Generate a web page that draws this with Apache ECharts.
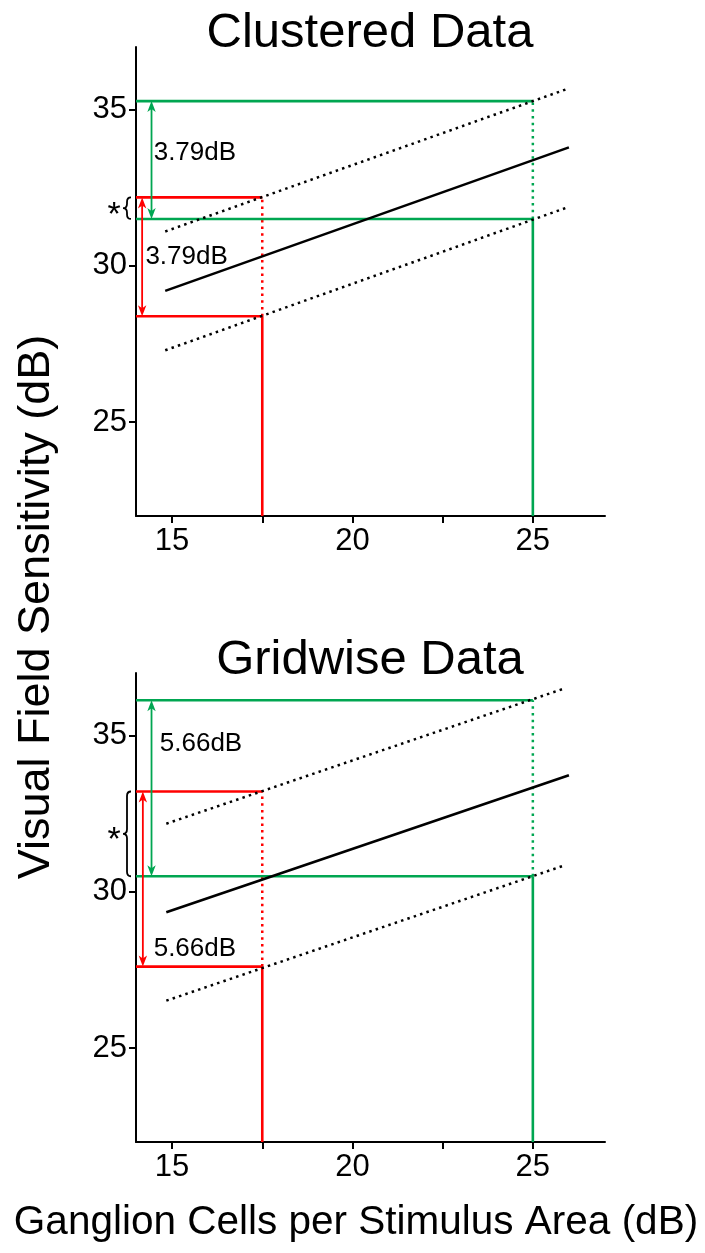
<!DOCTYPE html>
<html><head><meta charset="utf-8">
<script src="https://cdn.jsdelivr.net/npm/echarts@6/dist/echarts.min.js"></script>
<style>html,body{margin:0;padding:0;background:#fff}#c{width:705px;height:1253px}</style>
</head><body><div id="c"></div>
<script>
// ---------- data ----------
const xMin = 14, xMax = 27, yMin = 22, yMax = 37;
const xTickValues = [15, 17.5, 20, 22.5, 25];
const xLabelValues = [15, 20, 25];
const yTickValues = [25, 30, 35];
const panelTitles = ['Clustered Data', 'Gridwise Data'];
const yAxisTitle = 'Visual Field Sensitivity (dB)';
const xAxisTitle = 'Ganglion Cells per Stimulus Area (dB)';

// Clustered panel
const clusteredFitX = [14.81, 26.0];
const clusteredFitY = [29.20, 33.79];
const clusteredBandX = [14.81, 25.98];
const clusteredUpperY = [31.10, 35.67];
const clusteredLowerY = [27.30, 31.88];
const clusteredRed = [17.5, 28.39, 32.19];    // x, low, high
const clusteredGreen = [25, 31.50, 35.27];    // x, low, high
const clusteredArrowX = [14.17, 14.43];       // red, green
const clusteredDiffText = ['3.79dB', '3.79dB']; // red, green
const clusteredLabelPos = [[14.26, 30.29], [14.49, 33.61]]; // red, green

// Gridwise panel
const gridwiseFitX = [14.84, 26.0];
const gridwiseFitY = [29.35, 33.73];
const gridwiseBandX = [14.84, 25.86];
const gridwiseUpperY = [32.18, 36.50];
const gridwiseLowerY = [26.52, 30.84];
const gridwiseRed = [17.5, 27.61, 33.21];
const gridwiseGreen = [25, 30.50, 36.13];
const gridwiseArrowX = [14.19, 14.43];
const gridwiseDiffText = ['5.66dB', '5.66dB'];
const gridwiseLabelPos = [[14.49, 28.18], [14.66, 34.72]];

// ---------- styling ----------
const RED = '#ff0000', GREEN = '#00a651', BLACK = '#000';
const FONT = "'Liberation Sans', Arial, sans-serif";
const DOT = [2.5, 4.2];

const panels = [
  {fitX: clusteredFitX, fitY: clusteredFitY, bandX: clusteredBandX, up: clusteredUpperY, lo: clusteredLowerY,
   red: clusteredRed, green: clusteredGreen, arrowX: clusteredArrowX, txt: clusteredDiffText, txtPos: clusteredLabelPos},
  {fitX: gridwiseFitX, fitY: gridwiseFitY, bandX: gridwiseBandX, up: gridwiseUpperY, lo: gridwiseLowerY,
   red: gridwiseRed, green: gridwiseGreen, arrowX: gridwiseArrowX, txt: gridwiseDiffText, txtPos: gridwiseLabelPos}
];

const grids = [
  {left: 136, top: 47, width: 469, height: 469},
  {left: 136, top: 673, width: 469, height: 469}
];

const axisLine = {show: true, onZero: false, lineStyle: {color: BLACK, width: 2}};
const xAxes = grids.map((g, i) => ({
  type: 'value', gridIndex: i, min: xMin, max: xMax,
  axisLine, splitLine: {show: false},
  axisTick: {show: true, length: 7, lineStyle: {color: BLACK, width: 2}, customValues: xTickValues},
  axisLabel: {show: true, customValues: xLabelValues, fontSize: 31, color: BLACK, fontFamily: FONT, margin: 10}
}));
const yAxes = grids.map((g, i) => ({
  type: 'value', gridIndex: i, min: yMin, max: yMax,
  axisLine, splitLine: {show: false},
  axisTick: {show: true, length: 7, lineStyle: {color: BLACK, width: 2}, customValues: yTickValues},
  axisLabel: {show: true, customValues: yTickValues, fontSize: 31, color: BLACK, fontFamily: FONT, margin: 9}
}));

function seg(i, data, color, width, type, z) {
  return {type: 'line', xAxisIndex: i, yAxisIndex: i, data, symbol: 'none', silent: true, z: z || 2,
    lineStyle: {color, width, type: type || 'solid', cap: 'butt'}, animation: false};
}

const series = [];
panels.forEach((p, i) => {
  [[p.red, RED], [p.green, GREEN]].forEach(([v, col]) => {
    const [x, lo, hi] = v;
    series.push(seg(i, [[xMin, hi], [x, hi]], col, 2.6));
    series.push(seg(i, [[xMin, lo], [x, lo]], col, 2.6));
    series.push(seg(i, [[x, yMin], [x, lo]], col, 2.6));
    series.push(seg(i, [[x, lo], [x, hi]], col, 2.5, DOT));
  });
  series.push(seg(i, [[p.fitX[0], p.fitY[0]], [p.fitX[1], p.fitY[1]]], BLACK, 2.6, 'solid', 3));
  series.push(seg(i, [[p.bandX[0], p.up[0]], [p.bandX[1], p.up[1]]], BLACK, 2.5, DOT, 3));
  series.push(seg(i, [[p.bandX[0], p.lo[0]], [p.bandX[1], p.lo[1]]], BLACK, 2.5, DOT, 3));

  const arrowData = [
    {value: [p.arrowX[0], p.red[2], p.red[1]], itemStyle: {color: RED}},
    {value: [p.arrowX[1], p.green[2], p.green[1]], itemStyle: {color: GREEN}}
  ];
  series.push({
    type: 'custom', xAxisIndex: i, yAxisIndex: i, silent: true, animation: false, z: 4,
    data: arrowData,
    renderItem: function (params, api) {
      const x = api.value(0), hi = api.value(1), lo = api.value(2);
      const a = api.coord([x, hi]), b = api.coord([x, lo]);
      const col = api.visual('color');
      const L = 11, W = 4.2;
      return {type: 'group', children: [
        {type: 'line', shape: {x1: a[0], y1: a[1] + 6, x2: b[0], y2: b[1] - 6}, style: {stroke: col, lineWidth: 1.8}},
        {type: 'polygon', shape: {points: [[a[0], a[1]], [a[0] - W, a[1] + L], [a[0], a[1] + L - 3], [a[0] + W, a[1] + L]]}, style: {fill: col}},
        {type: 'polygon', shape: {points: [[b[0], b[1]], [b[0] - W, b[1] - L], [b[0], b[1] - L + 3], [b[0] + W, b[1] - L]]}, style: {fill: col}}
      ]};
    }
  });

  series.push({
    type: 'custom', xAxisIndex: i, yAxisIndex: i, silent: true, animation: false, z: 4, clip: false,
    data: [[p.red[2], p.green[1]]],
    renderItem: function (params, api) {
      const t = api.coord([xMin, api.value(0)]), bt = api.coord([xMin, api.value(1)]);
      const y1 = t[1], y2 = bt[1], ym = (y1 + y2) / 2;
      const xe = t[0] - 5, xm = t[0] - 9, xt = t[0] - 13;
      const r = Math.min(4.5, (y2 - y1) / 4);
      const path = `M${xe},${y1} Q${xm},${y1} ${xm},${y1 + r} L${xm},${ym - r} Q${xm},${ym} ${xt},${ym} ` +
                   `Q${xm},${ym} ${xm},${ym + r} L${xm},${y2 - r} Q${xm},${y2} ${xe},${y2}`;
      return {type: 'group', children: [
        {type: 'path', shape: {pathData: path}, style: {stroke: BLACK, lineWidth: 1.8, fill: null}},
        {type: 'text', style: {text: '*', x: t[0] - 22, y: ym + 7, fontSize: 34, fontFamily: FONT, fill: BLACK,
          align: 'center', verticalAlign: 'middle'}}
      ]};
    }
  });

  // difference labels
  series.push({
    type: 'custom', xAxisIndex: i, yAxisIndex: i, silent: true, animation: false, z: 5, clip: false,
    data: p.txtPos,
    renderItem: function (params, api) {
      const c = api.coord([api.value(0), api.value(1)]);
      return {type: 'text', style: {text: p.txt[params.dataIndex], x: c[0], y: c[1], fontSize: 26, fontFamily: FONT,
        fill: BLACK, align: 'left', verticalAlign: 'middle'}};
    }
  });
});

const chart = echarts.init(document.getElementById('c'), null, {renderer: 'canvas'});
chart.setOption({
  backgroundColor: '#fff',
  animation: false,
  grid: grids,
  xAxis: xAxes,
  yAxis: yAxes,
  series,
  graphic: [
    {type: 'text', x: 370, y: 33, style: {text: panelTitles[0], fontSize: 49, fontFamily: FONT, fill: BLACK, align: 'center', verticalAlign: 'middle'}},
    {type: 'text', x: 370, y: 660, style: {text: panelTitles[1], fontSize: 49, fontFamily: FONT, fill: BLACK, align: 'center', verticalAlign: 'middle'}},
    {type: 'text', x: 356, y: 1223, style: {text: xAxisTitle, fontSize: 40.5, fontFamily: FONT, fill: BLACK, align: 'center', verticalAlign: 'middle'}},
    {type: 'text', x: 37, y: 607, rotation: Math.PI / 2, style: {text: yAxisTitle, fontSize: 45, fontFamily: FONT, fill: BLACK, align: 'center', verticalAlign: 'middle'}}
  ]
});
</script></body></html>
